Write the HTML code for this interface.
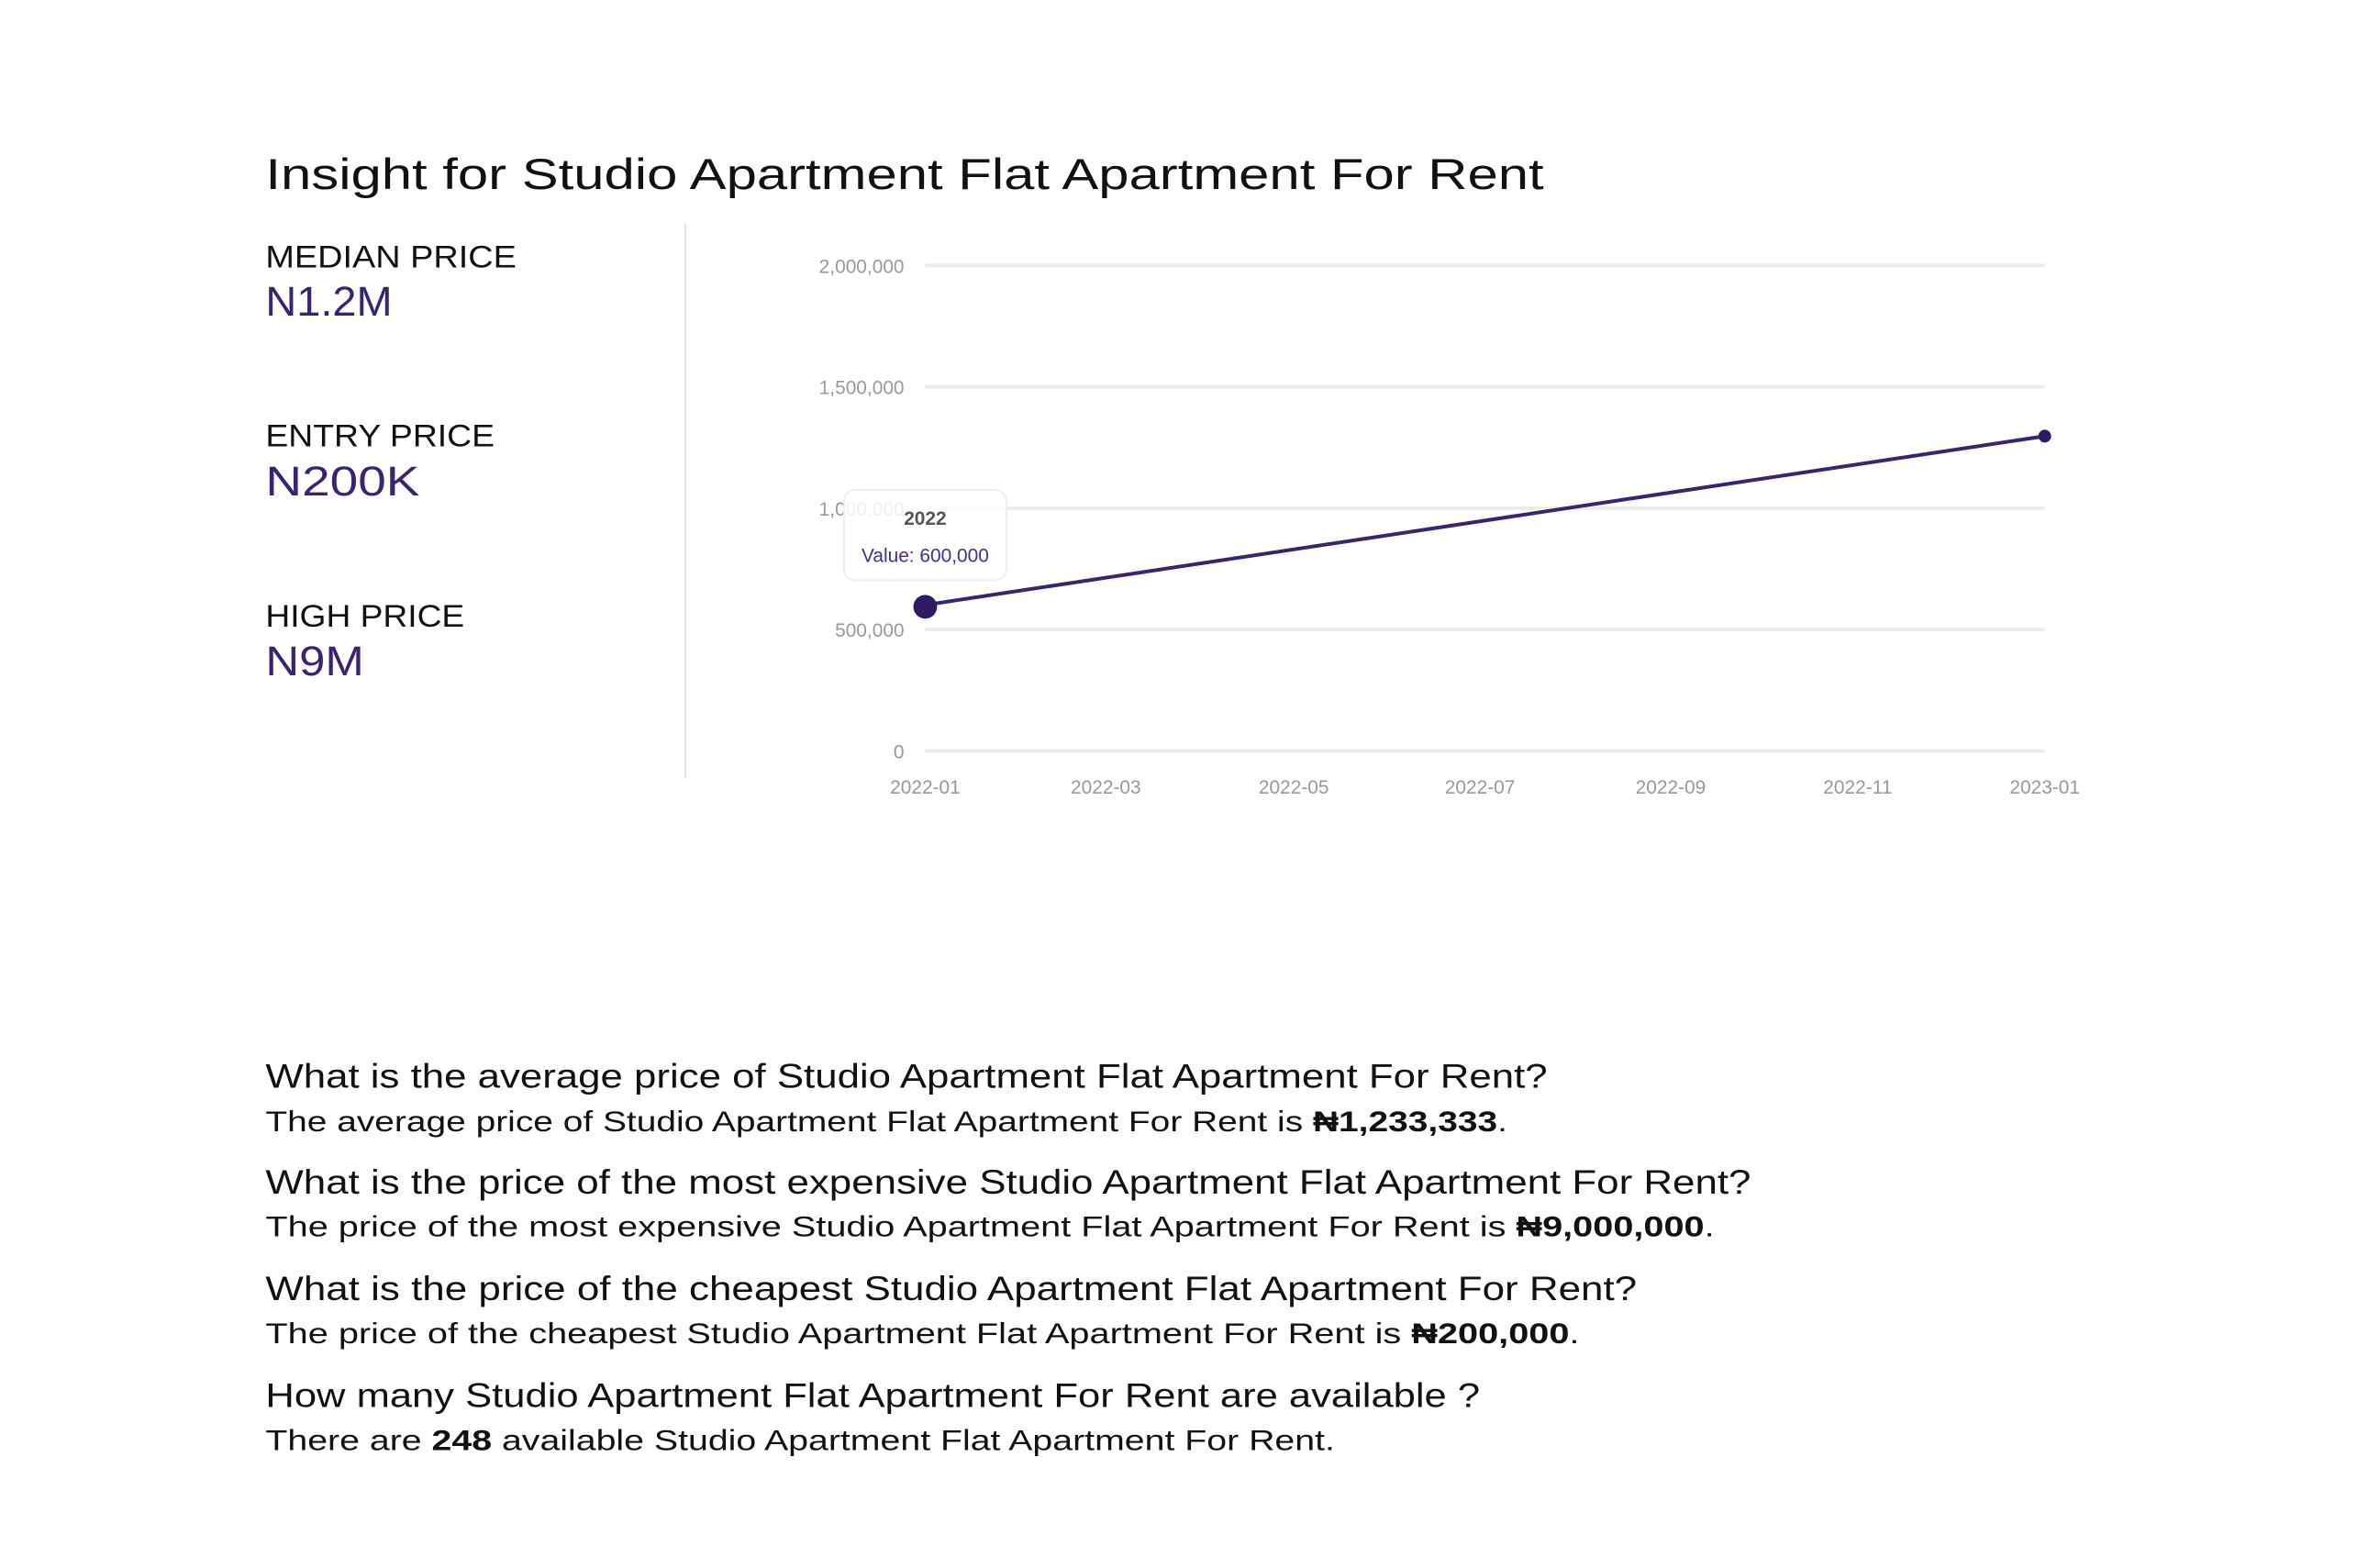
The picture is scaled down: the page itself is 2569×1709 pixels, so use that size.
<!DOCTYPE html>
<html><head><meta charset="utf-8"><style>
html,body{margin:0;padding:0;background:#fff;}
svg{display:block;}
text{font-family:"Liberation Sans","DejaVu Sans",sans-serif;}
</style></head><body>
<svg width="2569" height="1709" viewBox="0 0 2569 1709" xmlns="http://www.w3.org/2000/svg">
<rect width="2569" height="1709" fill="#fff"/>
<g transform="scale(0.9945)">
<text x="291" y="207" font-size="48" fill="#111" textLength="1401" lengthAdjust="spacingAndGlyphs">Insight for Studio Apartment Flat Apartment For Rent</text>

<text x="291" y="293" font-size="34" fill="#111" textLength="275" lengthAdjust="spacingAndGlyphs">MEDIAN PRICE</text>
<text x="291" y="346" font-size="46" fill="#3b2272" textLength="139" lengthAdjust="spacingAndGlyphs">N1.2M</text>
<text x="291" y="489" font-size="34" fill="#111" textLength="251" lengthAdjust="spacingAndGlyphs">ENTRY PRICE</text>
<text x="291" y="543" font-size="46" fill="#3b2272" textLength="169" lengthAdjust="spacingAndGlyphs">N200K</text>
<text x="291" y="687" font-size="34" fill="#111" textLength="218" lengthAdjust="spacingAndGlyphs">HIGH PRICE</text>
<text x="291" y="740" font-size="46" fill="#3b2272" textLength="108" lengthAdjust="spacingAndGlyphs">N9M</text>

<line x1="751" y1="245" x2="751" y2="853" stroke="#e2e2e2" stroke-width="2"/>

<g stroke="#ececec" stroke-width="4">
<line x1="1014" y1="291" x2="2241" y2="291"/>
<line x1="1014" y1="424" x2="2241" y2="424"/>
<line x1="1014" y1="557" x2="2241" y2="557"/>
<line x1="1014" y1="690" x2="2241" y2="690"/>
<line x1="1014" y1="823" x2="2241" y2="823"/>
</g>
<g font-size="21" fill="#999" text-anchor="end">
<text x="991" y="299">2,000,000</text>
<text x="991" y="432">1,500,000</text>
<text x="991" y="565">1,000,000</text>
<text x="991" y="698">500,000</text>
<text x="991" y="831">0</text>
</g>
<g font-size="21" fill="#999" text-anchor="middle">
<text x="1014" y="870">2022-01</text>
<text x="1212" y="870">2022-03</text>
<text x="1418" y="870">2022-05</text>
<text x="1622" y="870">2022-07</text>
<text x="1831" y="870">2022-09</text>
<text x="2036" y="870">2022-11</text>
<text x="2241" y="870">2023-01</text>
</g>
<line x1="1014" y1="663" x2="2241" y2="478" stroke="#3b2272" stroke-width="4"/>
<circle cx="2241" cy="478" r="7" fill="#2e1a66"/>
<circle cx="1014" cy="665" r="13" fill="#2e1a66"/>

<rect x="925" y="537" width="178" height="99" rx="12" fill="#fff" fill-opacity="0.85" stroke="#eee" stroke-width="2"/>
<text x="1014" y="575" font-size="21" font-weight="bold" fill="#555" text-anchor="middle">2022</text>
<text x="1014" y="616" font-size="21" fill="#4a2d8a" text-anchor="middle">Value: 600,000</text>

<g fill="#111">
<text x="291" y="1192" font-size="37" textLength="1405" lengthAdjust="spacingAndGlyphs">What is the average price of Studio Apartment Flat Apartment For Rent?</text>
<text x="291" y="1240" font-size="32" textLength="1361" lengthAdjust="spacingAndGlyphs">The average price of Studio Apartment Flat Apartment For Rent is <tspan font-weight="bold">₦1,233,333</tspan>.</text>
<text x="291" y="1308" font-size="37" textLength="1628" lengthAdjust="spacingAndGlyphs">What is the price of the most expensive Studio Apartment Flat Apartment For Rent?</text>
<text x="291" y="1355" font-size="32" textLength="1588" lengthAdjust="spacingAndGlyphs">The price of the most expensive Studio Apartment Flat Apartment For Rent is <tspan font-weight="bold">₦9,000,000</tspan>.</text>
<text x="291" y="1425" font-size="37" textLength="1503" lengthAdjust="spacingAndGlyphs">What is the price of the cheapest Studio Apartment Flat Apartment For Rent?</text>
<text x="291" y="1472" font-size="32" textLength="1440" lengthAdjust="spacingAndGlyphs">The price of the cheapest Studio Apartment Flat Apartment For Rent is <tspan font-weight="bold">₦200,000</tspan>.</text>
<text x="291" y="1542" font-size="37" textLength="1331" lengthAdjust="spacingAndGlyphs">How many Studio Apartment Flat Apartment For Rent are available ?</text>
<text x="291" y="1589" font-size="32" textLength="1172" lengthAdjust="spacingAndGlyphs">There are <tspan font-weight="bold">248</tspan> available Studio Apartment Flat Apartment For Rent.</text>
</g>
</g>
</svg>
</body></html>
